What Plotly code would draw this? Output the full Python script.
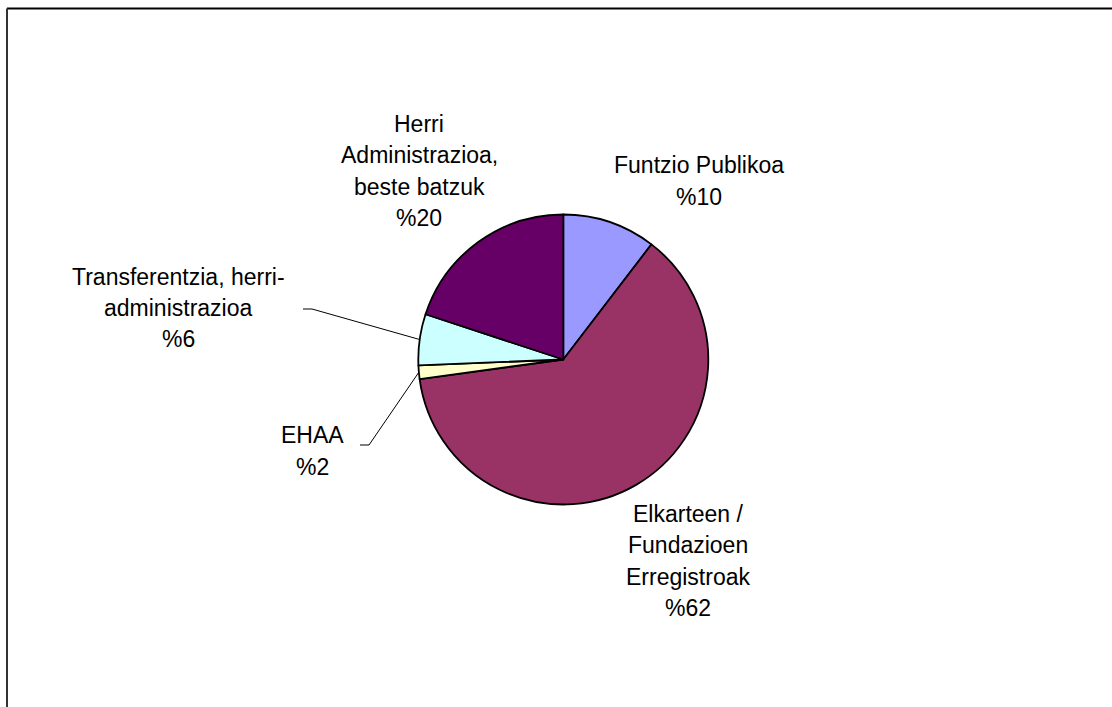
import math
import plotly.graph_objects as go

W, H = 1112, 707

# Data
categories = ["Funtzio Publikoa", "Elkarteen / Fundazioen Erregistroak", "EHAA",
              "Transferentzia, herri-administrazioa", "Herri Administrazioa, beste batzuk"]
values = [10.4, 62.45, 1.5, 5.7, 19.95]
label_lines = [["Funtzio Publikoa", "%10"],
               ["Elkarteen /", "Fundazioen", "Erregistroak", "%62"],
               ["EHAA", "%2"],
               ["Transferentzia, herri-", "administrazioa", "%6"],
               ["Herri", "Administrazioa,", "beste batzuk", "%20"]]
colors = ["#9999FF", "#993366", "#FFFFCC", "#CCFFFF", "#660066"]

# Layout (pixels)
cx, cy, r = 563.3, 359.5, 145
label_pos = [(699, 181), (688, 561), (312, 451), (178, 308), (419, 171)]
line_gap = 31.3
# leader lines: index -> (text end x, y, elbow x)
leaders = {3: (303, 309, 312), 2: (360, 445, 369)}


def px(x):
    return x / W


def py(y):
    return 1 - y / H


fig = go.Figure()
fig.add_trace(go.Pie(
    labels=categories, values=values, sort=False, direction="clockwise", rotation=0,
    marker=dict(colors=colors, line=dict(color="#000000", width=1.8)),
    textinfo="none", hoverinfo="label+percent", showlegend=False,
    domain=dict(x=[px(cx - r), px(cx + r)], y=[py(cy + r), py(cy - r)]),
))

annotations = []
for (x, y), lines in zip(label_pos, label_lines):
    n = len(lines)
    for k, t in enumerate(lines):
        yy = y + (k - (n - 1) / 2) * line_gap
        annotations.append(dict(x=px(x), y=py(yy), xref="paper", yref="paper", text=t,
                                showarrow=False, xanchor="center", yanchor="middle",
                                font=dict(family="Liberation Sans, Arial", size=23,
                                          color="#000000")))

shapes = [
    dict(type="line", xref="paper", yref="paper", x0=px(7), y0=py(8.5), x1=1, y1=py(8.5),
         line=dict(color="#000000", width=2)),
    dict(type="line", xref="paper", yref="paper", x0=px(7), y0=py(8.5), x1=px(7), y1=0,
         line=dict(color="#333333", width=2)),
]

total = sum(values)
cum = 0
for i, v in enumerate(values):
    mid = (cum + v / 2) / total * 360
    cum += v
    if i in leaders:
        tx, ty, ex = leaders[i]
        th = math.radians(mid)
        ux, uy = cx + r * math.sin(th), cy - r * math.cos(th)
        shapes.append(dict(type="line", xref="paper", yref="paper", x0=px(tx), y0=py(ty),
                           x1=px(ex), y1=py(ty), line=dict(color="#000000", width=1)))
        shapes.append(dict(type="line", xref="paper", yref="paper", x0=px(ex), y0=py(ty),
                           x1=px(ux), y1=py(uy), line=dict(color="#000000", width=1)))

fig.update_layout(width=W, height=H, margin=dict(l=0, r=0, t=0, b=0),
                  paper_bgcolor="#FFFFFF", plot_bgcolor="#FFFFFF",
                  annotations=annotations, shapes=shapes)

fig.write_html("out.html", config={"displayModeBar": False},
               post_script="document.body.style.margin='0';document.body.style.overflow='hidden';")
